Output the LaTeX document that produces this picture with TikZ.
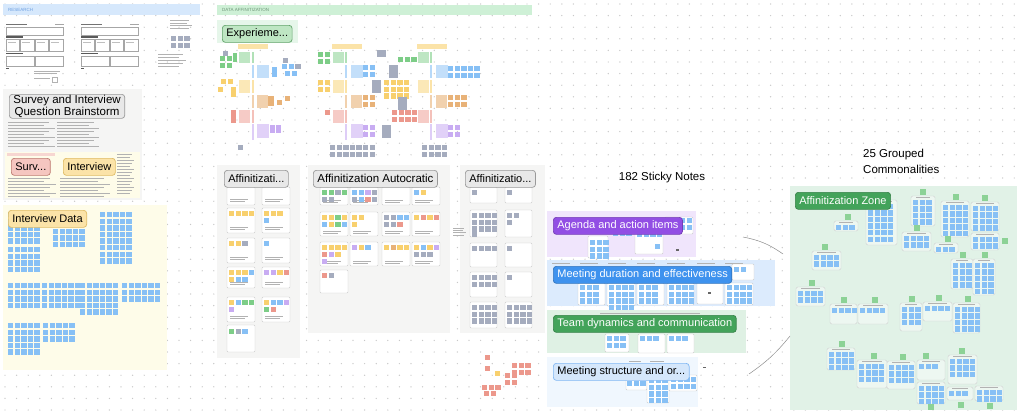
\documentclass[tikz,border=0pt]{standalone}
\usepackage{fontspec}
\setmainfont{Liberation Sans}
\usetikzlibrary{positioning}
\definecolor{dotgrey}{RGB}{200,200,200}
\definecolor{researchbar}{RGB}{214,232,252}
\definecolor{researchtxt}{RGB}{110,160,225}
\definecolor{affbar}{RGB}{206,240,214}
\definecolor{afftxt}{RGB}{110,150,120}
\definecolor{panelgrey}{RGB}{245,245,244}
\definecolor{panelyellow}{RGB}{254,252,233}
\definecolor{panelgreen}{RGB}{230,246,234}
\definecolor{noteblue}{RGB}{135,192,245}
\definecolor{notegrey}{RGB}{165,172,190}
\definecolor{noteyellow}{RGB}{248,208,110}
\definecolor{notegreen}{RGB}{125,205,135}
\definecolor{notepurple}{RGB}{200,172,242}
\definecolor{notered}{RGB}{236,152,140}
\definecolor{noteorange}{RGB}{232,178,120}
\definecolor{markgreen}{RGB}{140,210,150}
\definecolor{tagpurple}{RGB}{146,78,228}
\definecolor{tagblue}{RGB}{62,146,238}
\definecolor{taggreen}{RGB}{67,163,90}
\definecolor{bandpurple}{RGB}{240,229,252}
\definecolor{bandblue}{RGB}{220,235,253}
\definecolor{bandgreen}{RGB}{223,241,228}
\definecolor{bandlight}{RGB}{240,247,254}
\definecolor{zonefill}{RGB}{225,242,231}

% grid of sticky notes: x, y, cols, rows, colour
\newcommand{\notegrid}[5]{%
  \foreach \ci in {1,...,#3}{\foreach \cj in {1,...,#4}{%
    \fill[#5] ({#1+(\ci-1)*6.6},{#2+(\cj-1)*6.6}) rectangle ++(5.4,5.4);}}}
% one row of notes in given colours
\newcommand{\noterow}[3]{%
  \foreach \nc [count=\nk] in {#3}{%
    \fill[\nc] ({#1+(\nk-1)*6.6},#2) rectangle ++(5.4,5.4);}}
% grey scribbled text lines: x, y, width, count, gap
\newcommand{\scribble}[5]{%
  \foreach \sk in {1,...,#4}{%
    \fill[black!30] (#1,{#2+(\sk-1)*#5}) rectangle ++({#3*(1-0.12*mod(\sk,3))},0.7);}}
% card holding a grid of blue notes: x, y, w, h, cols, rows
\newcommand{\zcard}[6]{%
  \draw[zcardbox] (#1,#2) rectangle ++(#3,#4);
  \fill[black!30] ({#1+5},{#2+1.2}) rectangle ++({#3-10},0.6);
  \notegrid{#1+2}{#2+3.5}{#5}{#6}{noteblue}}
\newcommand{\zmark}[2]{\fill[markgreen] (#1,#2) rectangle ++(6,6);}

\begin{document}
\begin{tikzpicture}[x=1pt, y=-1pt,
    tag/.style={draw, rounded corners=3pt, line width=0.7pt, anchor=north west,
      inner xsep=4pt, inner ysep=0pt, minimum height=17pt, font=\fontsize{11}{12}\selectfont},
    greytag/.style={tag, fill=black!9, draw=black!40},
    hdr/.style={anchor=west, inner sep=0pt, font=\fontsize{4.5}{5}\selectfont},
    card/.style={draw=black!20, fill=white, rounded corners=1pt, line width=0.4pt},
    zcardbox/.style={draw=black!18, fill=zonefill!60!white, rounded corners=1.5pt, line width=0.4pt},
    link/.style={draw=black!45, line width=0.5pt},
    bigtext/.style={font=\fontsize{11.5}{16}\selectfont, inner sep=0pt}]
  \useasboundingbox (0,0) rectangle (1024,418);
  \fill[white] (0,0) rectangle (1024,418);
  % Dot grid
  \foreach \gx in {0,...,88}{\foreach \gy in {0,...,36}{
    \fill[dotgrey] ({5+\gx*11.6},{4+\gy*11.6}) circle (0.7pt);}}

  % Research
  \fill[researchbar] (3,4) rectangle (200,15);
  \node[hdr, text=researchtxt] (research) at (8,9.6) {RESEARCH};
  \foreach \rx in {5,80}{
    \begin{scope}[shift={(\rx,22)}]
      \fill[white] (0,0) rectangle (60,48);
      \fill[black!55] (1,1.5) rectangle (22,2.7);
      \fill[black!35] (50,1.5) rectangle (59,2.7);
      \draw[black!35, line width=0.4pt] (1,5) rectangle (58,13);
      \fill[black!65] (1,14) rectangle (18,15.5);
      \foreach \k in {0,...,3}{\draw[black!35, line width=0.4pt] ({1+\k*14.5},17) rectangle ++(13.5,12);
        \fill[black!25] ({2.5+\k*14.5},19.5) rectangle ++(8,0.6);}
      \fill[black!65] (1,30.5) rectangle (18,32);
      \draw[black!35, line width=0.4pt] (1,34) rectangle (29,44);
      \draw[black!35, line width=0.4pt] (30.5,34) rectangle (58,44);
      \fill[black!65] (1,45.5) rectangle (4,47);
    \end{scope}}
  \scribble{34}{71}{30}{2}{2.2}
  \scribble{34}{78}{18}{1}{2}
  \draw[black!30, line width=0.3pt] (52,77) rectangle (57,82);
  \scribble{170}{20}{22}{4}{2.5}
  \notegrid{171}{36}{3}{2}{notegrey}
  \scribble{158}{54}{28}{5}{3}

  % Survey and interview brainstorm
  \fill[panelgrey] (3,89) rectangle (142,200);
  \fill[panelyellow] (5,152) rectangle (140,198);
  \fill[notered!40!white] (7,153) rectangle (55,156);
  \scribble{8}{122}{47}{9}{3}
  \scribble{57}{122}{42}{9}{3}
  \scribble{8}{178}{48}{7}{3}
  \scribble{60}{178}{50}{7}{3}
  \scribble{117}{154}{17}{14}{3}
  \node[greytag, align=center, font=\fontsize{11.5}{10}\selectfont, minimum height=24pt]
    (brainstorm) at (9,94) {Survey and Interview\\Question Brainstorm};
  \node[tag, fill=notered!55!white, draw=notered!80!black] (survey) at (11,158) {Surv...};
  \node[tag, fill=noteyellow!60!white, draw=noteyellow!90!black] (interview) at (63,158) {Interview};

  % Interview data
  \fill[panelyellow] (3,205) rectangle (167,370);
  \notegrid{8}{212}{5}{5}{noteblue}
  \notegrid{8}{247}{5}{4}{noteblue}
  \notegrid{53}{222}{5}{4}{noteblue}
  \notegrid{100}{212}{5}{8}{noteblue}
  \notegrid{8}{283}{5}{4}{noteblue}
  \notegrid{42}{283}{6}{4}{noteblue}
  \notegrid{80}{283}{6}{5}{noteblue}
  \notegrid{122}{283}{6}{3}{noteblue}
  \notegrid{8}{323}{5}{5}{noteblue}
  \notegrid{43}{323}{5}{3}{noteblue}
  \node[tag, fill=noteyellow!60!white, draw=noteyellow!90!black] (intdata) at (8,210) {Interview Data};

  % Data affinitization
  \fill[affbar] (217,5) rectangle (532,15);
  \node[hdr, text=afftxt] (dataaff) at (222,10.3) {DATA AFFINITIZATION};
  \fill[panelgreen] (217,20) rectangle (298,43);
  \foreach \hx/\lx/\ox in {238/253/0, 332/346/94, 417/431/179}{
    \fill[noteyellow!60!white] (\hx,44) rectangle ++(30,5);
    \draw[notegreen!60!white, line width=1.5pt] (\lx,52) -- (\lx,63);
    \draw[noteblue!60!white, line width=1.5pt] (\lx,65) -- (\lx,78);
    \draw[noteyellow!60!white, line width=1.5pt] (\lx,80) -- (\lx,93);
    \draw[noteorange!60!white, line width=1.5pt] (\lx,95) -- (\lx,108);
    \draw[notered!60!white, line width=1.5pt] (\lx,110) -- (\lx,123);
    \draw[notepurple!60!white, line width=1.5pt] (\lx,124) -- (\lx,140);
    \fill[notegreen!50!white] ({239+\ox},52) rectangle ++(11,11);
    \fill[noteblue!50!white] ({257+\ox},65) rectangle ++(12,13);
    \fill[noteyellow!50!white] ({239+\ox},80) rectangle ++(11,13);
    \fill[noteorange!60!white] ({257+\ox},95) rectangle ++(11,13);
    \fill[notered!50!white] ({239+\ox},110) rectangle ++(11,13);
    \fill[notepurple!55!white] ({257+\ox},124) rectangle ++(12,14);}
  % column 1 notes
  \notegrid{220}{56}{2}{2}{notegreen}
  \noterow{223}{51}{notegrey}
  \fill[notegreen] (233,53) rectangle ++(4,9);
  \fill[noteblue] (272,67) rectangle ++(5,10);
  \noterow{283}{58}{notegrey}
  \noterow{282}{64}{noteblue,noteblue,notegrey}
  \noterow{285}{71}{noteblue,noteblue}
  \noterow{221}{79}{noteyellow,noteyellow}
  \noterow{218}{87}{noteyellow}
  \fill[noteyellow] (231,87) rectangle ++(5,10);
  \fill[noteorange] (268,96) rectangle ++(6,10);
  \noterow{277}{100}{noteorange}
  \noterow{285}{96}{noteorange}
  \fill[notered] (231,110) rectangle ++(5,13);
  \fill[notepurple] (270,125) rectangle ++(5,8);
  \fill[notepurple] (276,125) rectangle ++(5,8);
  \noterow{238}{145}{notegrey}
  % column 2 notes
  \notegrid{318}{52}{2}{2}{notegreen}
  \notegrid{363}{65}{2}{2}{noteblue}
  \fill[notegrey] (377,50) rectangle ++(9,7);
  \fill[notegrey] (389,65) rectangle ++(9,13);
  \fill[notegrey] (372,80) rectangle ++(9,13);
  \notegrid{318}{80}{2}{2}{noteyellow}
  \notegrid{384}{80}{4}{3}{noteyellow}
  \notegrid{363}{95}{2}{2}{noteorange}
  \fill[notegrey] (398,97) rectangle ++(9,13);
  \noterow{325}{110}{notered}
  \notegrid{392}{110}{4}{2}{notered}
  \notegrid{363}{125}{2}{2}{notepurple}
  \fill[notegrey] (382,125) rectangle ++(9,13);
  \notegrid{330}{145}{7}{2}{notegrey}
  % column 3 notes
  \notegrid{398}{57}{3}{1}{notegreen}
  \notegrid{448}{66}{5}{2}{noteblue}
  \notegrid{448}{95}{3}{2}{noteorange}
  \notegrid{448}{125}{2}{2}{notepurple}
  \notegrid{422}{145}{4}{2}{notegrey}
  \node[tag, fill=notegreen!50!white, draw=notegreen!80!black] (experiment) at (222,25) {Experieme...};

  % Affinitization panel one
  \fill[panelgrey] (217,165) rectangle (300,358);
  \foreach \ax in {227,262}{
    \foreach \ay/\ah in {187/18, 208/25, 238/25, 267/21, 297/25}{
      \draw[card] (\ax,\ay) rectangle ++(28,\ah);
      \scribble{\ax+3}{\ay+\ah-6}{20}{2}{2}}}
  \draw[card] (227,325) rectangle ++(28,27);
  \noterow{229}{211}{noteyellow,noteyellow,noteyellow,noteyellow}
  \noterow{264}{211}{noteyellow,noteyellow,noteyellow}
  \noterow{264}{218}{noteblue}
  \noterow{229}{241}{noteyellow,noteyellow,notegrey}
  \noterow{264}{241}{noteblue}
  \noterow{229}{270}{noteyellow,noteyellow,noteyellow,noteblue}
  \noterow{229}{277}{noteyellow,noteblue,noteblue}
  \noterow{264}{270}{notepurple,notepurple,noteyellow,notered}
  \noterow{229}{300}{noteyellow,noteblue,notegreen,notegreen}
  \noterow{229}{307}{notepurple}
  \noterow{264}{300}{noteyellow,noteblue,noteblue,notepurple}
  \noterow{264}{307}{notegreen,notered}
  \noterow{229}{329}{notegreen,notegrey,noteblue}
  \node[greytag] (affone) at (224,170) {Affinitizati...};

  % Affinitization panel two
  \fill[panelgrey] (308,165) rectangle (450,333);
  \foreach \ax in {320,350,382,412}{
    \foreach \ay/\ah in {187/18, 212/24, 242/24}{
      \draw[card] (\ax,\ay) rectangle ++(28,\ah);
      \scribble{\ax+3}{\ay+\ah-5}{20}{2}{2}}}
  \draw[card] (320,270) rectangle ++(28,23);
  \noterow{322}{190}{notegreen,notegreen,notegrey,notegreen}
  \noterow{322}{197}{notegrey,notegrey}
  \noterow{352}{190}{noteblue,noteblue,notepurple,notegrey}
  \noterow{352}{197}{notegrey,noteblue,notered,notegrey}
  \noterow{414}{190}{noteblue,noteyellow}
  \noterow{322}{215}{noteyellow,noteyellow,notegreen,noteyellow}
  \noterow{322}{222}{noteblue,noteyellow,notegreen,noteblue}
  \noterow{352}{215}{noteyellow,noteyellow}
  \noterow{352}{222}{noteyellow}
  \noterow{384}{215}{notegrey,notegrey,noteblue,noteblue}
  \noterow{384}{222}{notegrey,notegrey,notered}
  \noterow{414}{215}{noteyellow,notered,noteyellow,notered}
  \noterow{322}{245}{noteyellow,noteyellow,noteyellow,noteyellow}
  \noterow{322}{252}{notered,notepurple,noteyellow}
  \noterow{322}{259}{notepurple}
  \noterow{352}{245}{notepurple,noteyellow,noteblue}
  \noterow{384}{245}{noteyellow,noteorange,noteyellow,noteyellow}
  \noterow{414}{245}{noteyellow,noteblue,noteyellow,notepurple}
  \noterow{414}{252}{notegrey,notegrey,notegrey}
  \noterow{322}{273}{notered,notegrey}
  \node[greytag, font=\fontsize{11.5}{12}\selectfont] (afftwo) at (313,170) {Affinitization Autocratic};

  % Affinitization panel three
  \fill[panelgrey] (460,165) rectangle (545,333);
  \foreach \ax in {470,505}{
    \foreach \ay/\ah in {187/16, 210/27, 243/24, 272/25, 302/26}{
      \draw[card] (\ax,\ay) rectangle ++(27,\ah);}}
  \noterow{472}{190}{notegrey}
  \noterow{507}{190}{notegrey}
  \notegrid{472}{213}{4}{3}{notegrey}
  \noterow{472}{232}{notegrey}
  \noterow{507}{213}{notegrey,notegrey}
  \noterow{507}{220}{notegrey}
  \noterow{472}{246}{notegrey,notegrey,notegrey,notegrey}
  \noterow{507}{246}{notegrey}
  \notegrid{472}{275}{4}{2}{notegrey}
  \noterow{507}{275}{notegrey}
  \notegrid{472}{305}{4}{3}{notegrey}
  \notegrid{507}{305}{4}{3}{notegrey}
  \scribble{453}{228}{13}{4}{2.2}
  \node[greytag] (affthree) at (465,170) {Affinitizatio...};

  % Loose red notes
  \noterow{485}{355}{notered}
  \noterow{485}{366}{notered}
  \noterow{495}{371}{noteyellow}
  \notegrid{505}{373}{2}{2}{notered}
  \notegrid{512}{363}{3}{2}{notered}
  \noterow{482}{385}{notered,notered,notered}
  \noterow{484}{391}{notered,notered}

  % Sorted bands
  \node[bigtext] (stickycount) at (662,178) {182 Sticky Notes};
  \fill[bandpurple] (547,211) rectangle (696,257);
  \fill[bandblue] (547,260) rectangle (775,306);
  \fill[bandgreen] (547,310) rectangle (746,353);
  \fill[bandlight] (547,357) rectangle (698,407);
  % purple band notes
  \draw[card] (588,236) rectangle ++(20,22);
  \notegrid{590}{240}{3}{3}{noteblue}
  \notegrid{613}{231}{3}{1}{noteblue}
  \draw[card] (635,223) rectangle ++(28,31);
  \notegrid{637}{225}{4}{2}{noteblue}
  \noterow{655}{244}{noteblue}
  \draw[card] (665,217) rectangle ++(28,17);
  \notegrid{680}{218}{2}{2}{noteblue}
  \fill[black!60] (676,249) rectangle ++(3,1.5);
  % blue band notes
  \foreach \tx in {552,580,608,637,667,697,725}{\fill[black!30] (\tx,263) rectangle ++(18,0.6);}
  \draw[card] (578,283) rectangle ++(27,22);
  \notegrid{580}{285}{3}{3}{noteblue}
  \draw[card] (607,283) rectangle ++(28,23);
  \notegrid{609}{285}{4}{4}{noteblue}
  \draw[card] (637,283) rectangle ++(27,22);
  \notegrid{639}{285}{3}{3}{noteblue}
  \draw[card] (667,283) rectangle ++(27,22);
  \notegrid{669}{285}{4}{3}{noteblue}
  \draw[card] (697,282) rectangle ++(26,22);
  \notegrid{700}{278}{4}{1}{noteblue}
  \fill[black!60] (708,292) rectangle ++(3,1.5);
  \draw[card] (725,283) rectangle ++(28,22);
  \notegrid{727}{285}{4}{3}{noteblue}
  \draw[card] (732,264) rectangle ++(22,16);
  \noterow{734}{267}{noteblue,noteblue}
  % green band notes
  \fill[black!30] (600,313) rectangle ++(100,0.6);
  \draw[card] (605,334) rectangle ++(24,18);
  \notegrid{607}{336}{3}{2}{noteblue}
  \draw[card] (638,334) rectangle ++(27,19);
  \notegrid{640}{336}{3}{1}{noteblue}
  \draw[card] (667,334) rectangle ++(27,19);
  \notegrid{669}{336}{3}{1}{noteblue}
  % light band notes
  \fill[black!30] (629,361) rectangle ++(12,0.6);
  \fill[black!30] (650,361) rectangle ++(14,0.6);
  \draw[card] (626,378) rectangle ++(21,12);
  \notegrid{627}{381}{3}{1}{noteblue}
  \draw[card] (647,376) rectangle ++(22,27);
  \notegrid{649}{378}{3}{4}{noteblue}
  \draw[card] (669,375) rectangle ++(28,16);
  \notegrid{671}{377}{4}{2}{noteblue}
  \fill[black!60] (703,367) rectangle ++(2.5,1.2);
  \node[tag, fill=tagpurple, draw=tagpurple!80!black, text=white] (agenda) at (553,217) {Agenda and action items};
  \node[tag, fill=tagblue, draw=tagblue!80!black, text=white] (duration) at (553,266) {Meeting duration and effectiveness};
  \node[tag, fill=taggreen, draw=taggreen!80!black, text=white] (dynamics) at (553,315) {Team dynamics and communication};
  \node[tag, fill=tagblue!22!white, draw=tagblue!65!white, text=black] (structure) at (553,363) {Meeting structure and or...};

  % Affinitization zone
  \node[bigtext, anchor=north west, align=left] (commonalities) at (863,149) {25 Grouped\\Commonalities};
  \fill[zonefill] (790,186) rectangle (1017,410);
  \zcard{866}{200}{31}{45}{4}{6}
  \zcard{911}{196}{24}{30}{3}{4} \zmark{920}{189}
  \zcard{941}{201}{28}{36}{4}{5} \zmark{953}{194}
  \zcard{971}{202}{28}{29}{4}{4} \zmark{982}{195}
  \zcard{834}{221}{24}{10}{3}{1} \zmark{845}{214}
  \zcard{902}{232}{29}{19}{4}{2} \zmark{914}{225}
  \zcard{934}{243}{24}{10}{3}{1} \zmark{945}{236}
  \zcard{971}{233}{28}{17}{4}{2} \zmark{1002}{238}
  \zcard{812}{251}{29}{19}{4}{2} \zmark{822}{244}
  \zcard{951}{259}{22}{30}{3}{4} \zmark{960}{252}
  \zcard{973}{259}{22}{36}{3}{5} \zmark{982}{252}
  \zcard{796}{287}{29}{19}{4}{2} \zmark{809}{280}
  \zcard{830}{304}{27}{20}{4}{1} \zmark{841}{297}
  \zcard{858}{304}{30}{20}{4}{1} \zmark{872}{297}
  \zcard{900}{303}{22}{28}{3}{3} \zmark{909}{296}
  \zcard{923}{302}{29}{19}{4}{1} \zmark{936}{295}
  \zcard{953}{303}{27}{30}{4}{4} \zmark{965}{296}
  \zcard{827}{348}{28}{22}{4}{3} \zmark{839}{341}
  \zcard{857}{360}{30}{28}{4}{3} \zmark{871}{353}
  \zcard{887}{361}{28}{28}{4}{3} \zmark{900}{354}
  \zcard{917}{360}{28}{20}{3}{1} \zmark{923}{353}
  \zcard{917}{382}{28}{22}{4}{3} \zmark{928}{404}
  \zcard{948}{355}{29}{29}{4}{3} \zmark{959}{348}
  \zcard{947}{387}{26}{13}{3}{1} \zmark{958}{402}
  \zcard{975}{386}{28}{15}{4}{2} \zmark{987}{403}
  \node[tag, fill=taggreen, draw=taggreen!80!black, text=white] (zone) at (795,192) {Affinitization Zone};

  % Links towards the zone
  \coordinate (agendaout) at (743,237);
  \coordinate (zonetop) at (783,254);
  \coordinate (structureout) at (749,374);
  \coordinate (zonebottom) at (790,336);
  \draw[link] (agendaout) to[bend left=12] (zonetop);
  \draw[link] (structureout) to[bend right=8] (zonebottom);
\end{tikzpicture}
\end{document}
